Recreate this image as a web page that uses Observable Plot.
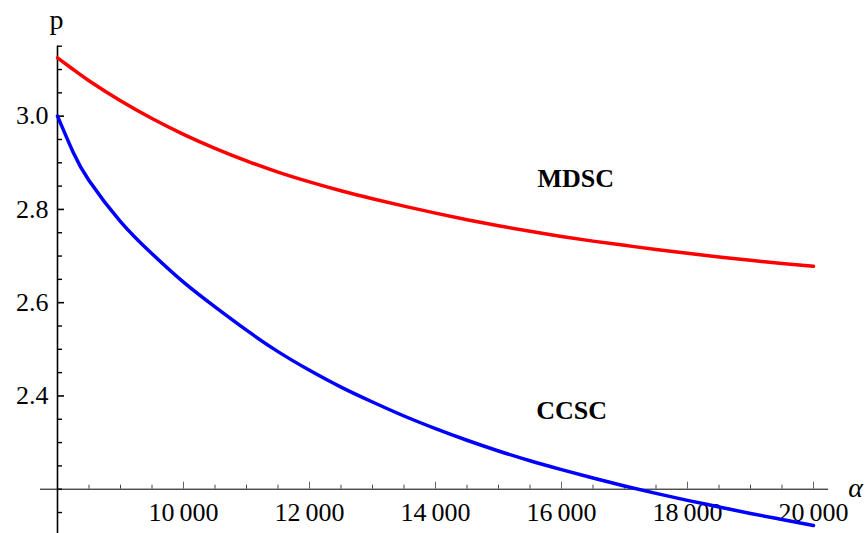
<!DOCTYPE html>
<html><head><meta charset="utf-8">
<script src="https://cdn.jsdelivr.net/npm/d3@7"></script>
<script src="https://cdn.jsdelivr.net/npm/@observablehq/plot@0.6"></script>
<style>body{margin:0;background:#fff} svg{display:block} svg text{font-family:"Liberation Serif","Times New Roman",serif}</style>
</head><body><div id="chart"></div>
<script>
// alpha values (x) and p values for each curve
const alpha = [8000, 8250, 8500, 9000, 9500, 10000, 10500, 11000, 11500, 12000, 12500, 13000, 13500, 14000, 14500, 15000, 15500, 16000, 16500, 17000, 17500, 18000, 18500, 19000, 19500, 20000];
const pMDSC = [3.125, 3.100, 3.076, 3.033, 2.995, 2.961, 2.931, 2.904, 2.880, 2.859, 2.840, 2.823, 2.807, 2.792, 2.778, 2.765, 2.753, 2.742, 2.732, 2.723, 2.714, 2.706, 2.698, 2.691, 2.684, 2.678];
const pCCSC = [3.000, 2.922, 2.862, 2.774, 2.705, 2.644, 2.591, 2.541, 2.495, 2.455, 2.419, 2.387, 2.357, 2.330, 2.305, 2.282, 2.261, 2.242, 2.224, 2.207, 2.191, 2.176, 2.162, 2.148, 2.135, 2.122];
const seriesNames = ["MDSC", "CCSC"];
const seriesColors = ["#ff0000", "#0000ff"];
const labelAlpha = [16225, 16162];
const labelP = [2.867, 2.369];

const xTicks = [10000, 12000, 14000, 16000, 18000, 20000];
const xTickLabels = ["10\u2009000", "12\u2009000", "14\u2009000", "16\u2009000", "18\u2009000", "20\u2009000"];
const xMinor = [8500, 9000, 9500, 10500, 11000, 11500, 12500, 13000, 13500, 14500, 15000, 15500, 16500, 17000, 17500, 18500, 19000, 19500];
const yTicks = [2.4, 2.6, 2.8, 3.0];
const yTickLabels = ["2.4", "2.6", "2.8", "3.0"];
const yMinor = [2.15, 2.2, 2.25, 2.3, 2.35, 2.45, 2.5, 2.55, 2.65, 2.7, 2.75, 2.85, 2.9, 2.95, 3.05, 3.1, 3.15];
const xOrigin = 8000, yOrigin = 2.2;

const rows = [];
alpha.forEach((a, i) => {
  rows.push({series: seriesNames[0], alpha: a, p: pMDSC[i]});
  rows.push({series: seriesNames[1], alpha: a, p: pCCSC[i]});
});
const labels = seriesNames.map((s, i) => ({name: s, alpha: labelAlpha[i], p: labelP[i]}));
const xt = xTicks.map((v, i) => ({v, label: xTickLabels[i]}));
const yt = yTicks.map((v, i) => ({v, label: yTickLabels[i]}));

const W = 865, H = 533;
const pxX = 1000 / 63.1;   // data units per pixel (x)
const pxY = 1 / 466.3;     // data units per pixel (y)
const FONT = "Liberation Serif, Times New Roman, serif";

const chart = Plot.plot({
  width: W, height: H,
  marginLeft: 57, marginRight: 52, marginTop: 22.4, marginBottom: 0,
  x: {domain: [8000, 20000], axis: null},
  y: {domain: [2.105, 3.2], axis: null},
  color: {domain: seriesNames, range: seriesColors},
  style: "font-family: 'Liberation Serif', 'Times New Roman', serif; background: #fff;",
  marks: [
    // x axis line and ticks
    Plot.ruleY([yOrigin], {x1: 7730, x2: 20240, stroke: "#000", strokeWidth: 1}),
    Plot.ruleX(xTicks, {x: d => d, y1: yOrigin, y2: yOrigin + 7 * pxY, stroke: "#666", strokeWidth: 1}),
    Plot.ruleX(xMinor, {x: d => d, y1: yOrigin, y2: yOrigin + 4 * pxY, stroke: "#444", strokeWidth: 1}),
    Plot.text(xt, {x: "v", y: yOrigin, text: "label", dy: 23, fontSize: 26, fontFamily: FONT, textAnchor: "middle", lineAnchor: "middle", fill: "#000"}),
    // y axis line and ticks
    Plot.ruleX([xOrigin], {y1: 2.105, y2: 3.15, stroke: "#000", strokeWidth: 1.6}),
    Plot.ruleY(yTicks, {y: d => d, x1: xOrigin, x2: xOrigin + 7 * pxX, stroke: "#000", strokeWidth: 1.6}),
    Plot.ruleY(yMinor, {y: d => d, x1: xOrigin, x2: xOrigin + 5 * pxX, stroke: "#000", strokeWidth: 1.4}),
    Plot.text(yt, {x: xOrigin, y: "v", text: "label", dx: -9, fontSize: 26, fontFamily: FONT, textAnchor: "end", lineAnchor: "middle", fill: "#000"}),
    // curves
    Plot.line(rows, {x: "alpha", y: "p", z: "series", stroke: "series", strokeWidth: 3.5, curve: "natural"}),
    // series labels
    Plot.text(labels, {x: "alpha", y: "p", text: "name", fontSize: 26, fontFamily: FONT, fontWeight: "bold", textAnchor: "middle", lineAnchor: "middle", fill: "#000"}),
    // axis labels
    Plot.text(["p"], {frameAnchor: "top-left", text: d => d, dx: -1, dy: 6, fontSize: 28, fontFamily: FONT, textAnchor: "middle", lineAnchor: "bottom", fill: "#000"}),
    Plot.text(["\u03b1"], {x: 20000, y: yOrigin, text: d => d, dx: 42, dy: -1, fontSize: 28, fontFamily: FONT, fontStyle: "italic", textAnchor: "middle", lineAnchor: "middle", fill: "#000"})
  ]
});
document.getElementById("chart").append(chart);
</script>
</body></html>
